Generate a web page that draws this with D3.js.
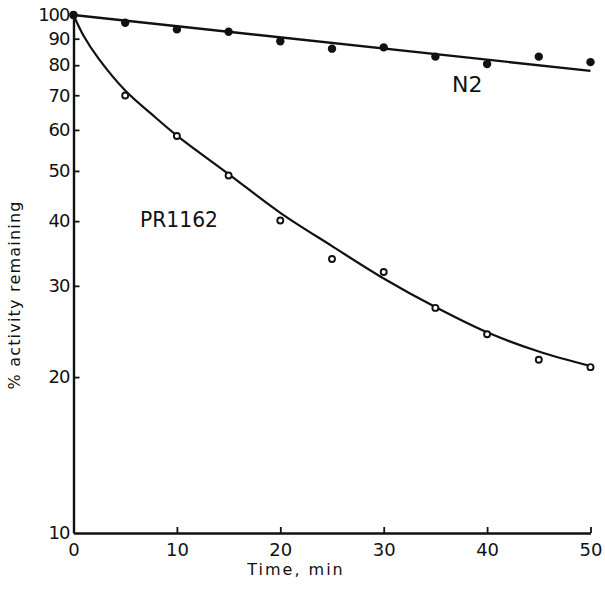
<!DOCTYPE html>
<html>
<head>
<meta charset="utf-8">
<script src="https://cdn.jsdelivr.net/npm/d3@7"></script>
<style>
  body { margin: 0; background: #fff; }
  svg { display: block; }
  text { font-family: "DejaVu Sans", sans-serif; fill: #111; }
</style>
</head>
<body>
<svg id="chart" width="605" height="589"></svg>
<script>
// ---- data ----
const times = [0, 5, 10, 15, 20, 25, 30, 35, 40, 45, 50];
const n2Values = [100, 96.6, 93.8, 92.8, 89.0, 86.1, 86.6, 83.1, 80.4, 83.1, 81.1];
const pr1162Values = [100, 69.9, 58.4, 49.0, 40.1, 33.8, 31.9, 27.2, 24.2, 21.6, 20.9];
const n2FitTimes = [0, 50];
const n2FitValues = [100, 78];
const prFitTimes = [0, 1, 2.5, 5, 7.5, 10, 15, 20, 25, 30, 35, 40, 45, 50];
const prFitValues = [100, 91, 82, 71.5, 64.5, 58.5, 49.3, 41.5, 35.8, 31, 27.3, 24.4, 22.4, 21];
const xTicks = [0, 10, 20, 30, 40, 50];
const yTicks = [10, 20, 30, 40, 50, 60, 70, 80, 90, 100];
const xLabel = "Time, min";
const yLabel = "% activity remaining";
const seriesLabels = ["N2", "PR1162"];

// ---- chart ----
const svg = d3.select("#chart");
const x = d3.scaleLinear().domain([0, 50]).range([73.5, 590.5]);
const y = d3.scaleLog().domain([10, 100]).range([533, 15]);

const ink = "#111";

// axes
const xAxis = d3.axisBottom(x).tickValues(xTicks).tickSizeInner(-6).tickSizeOuter(0).tickPadding(10).tickFormat(d3.format("d"));
const yAxis = d3.axisLeft(y).tickValues(yTicks).tickSizeInner(-6).tickSizeOuter(0).tickPadding(4).tickFormat(d3.format("d"));

const gx = svg.append("g").attr("transform", `translate(0,${y(10)})`).call(xAxis);
const gy = svg.append("g").attr("transform", `translate(${x(0)},0)`).call(yAxis);

[gx, gy].forEach(g => {
  g.select(".domain").attr("stroke", ink).attr("stroke-width", 2.4);
  g.selectAll(".tick line").attr("stroke", ink).attr("stroke-width", 1.8);
  g.selectAll(".tick text").attr("font-size", 18).attr("font-family", "DejaVu Sans").attr("fill", ink);
});
gx.selectAll(".tick").filter(d => d === 0).select("line").remove();
gy.selectAll(".tick").filter(d => d === 10 || d === 100).select("line").remove();
gy.selectAll(".tick text").attr("letter-spacing", -1);

// axis titles
svg.append("text")
  .attr("x", 296).attr("y", 575)
  .attr("text-anchor", "middle")
  .attr("font-size", 16)
  .attr("letter-spacing", 2)
  .text(xLabel);

svg.append("text")
  .attr("transform", `translate(20,295) rotate(-90)`)
  .attr("text-anchor", "middle")
  .attr("font-size", 16)
  .attr("letter-spacing", 1.2)
  .text(yLabel);

// fitted lines
const line = d3.line().x(d => x(d[0])).y(d => y(d[1])).curve(d3.curveCatmullRom);
svg.append("path")
  .datum(n2FitTimes.map((t, i) => [t, n2FitValues[i]]))
  .attr("d", line).attr("fill", "none").attr("stroke", ink).attr("stroke-width", 2.3);
svg.append("path")
  .datum(prFitTimes.map((t, i) => [t, prFitValues[i]]))
  .attr("d", line).attr("fill", "none").attr("stroke", ink).attr("stroke-width", 2.2);

// points
svg.append("g").selectAll("circle")
  .data(times.map((t, i) => [t, pr1162Values[i]]))
  .join("circle")
  .attr("cx", d => x(d[0])).attr("cy", d => y(d[1])).attr("r", 3)
  .attr("fill", "#fff").attr("stroke", ink).attr("stroke-width", 1.9);

svg.append("g").selectAll("circle")
  .data(times.map((t, i) => [t, n2Values[i]]))
  .join("circle")
  .attr("cx", d => x(d[0])).attr("cy", d => y(d[1])).attr("r", 4.2)
  .attr("fill", ink);

// series labels
svg.append("text").attr("x", 452).attr("y", 92).attr("font-size", 22).text(seriesLabels[0]);
svg.append("text").attr("x", 140).attr("y", 227).attr("font-size", 22)
  .attr("textLength", 78).attr("lengthAdjust", "spacingAndGlyphs").text(seriesLabels[1]);
</script>
</body>
</html>
